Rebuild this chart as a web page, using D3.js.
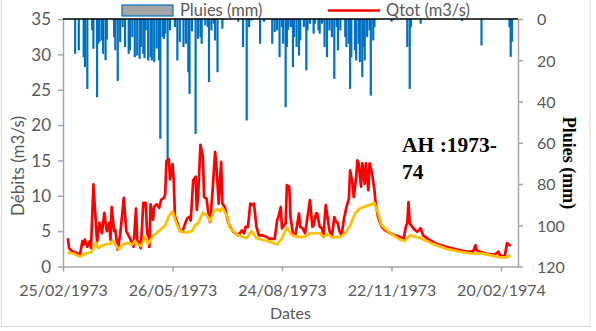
<!DOCTYPE html>
<html>
<head>
<meta charset="utf-8">
<script src="https://cdn.jsdelivr.net/npm/d3@7/dist/d3.min.js"></script>
<style>
  html, body { margin: 0; padding: 0; background: #fff; }
  svg { display: block; }
  .tick text { font-family: Lato, "Open Sans", sans-serif; font-size: 16px; fill: #595959; }
  .yq .tick text { font-size: 17px; }
</style>
</head>
<body>
<svg id="chart" width="596" height="331"></svg>
<script>
// Daily series, 1 March 1973 = day 0. [day, value]
const startDay = "01/03/1973";

// Total discharge Qtot (m3/s)
const qtot = [
  [0,4.0],[1,2.6],[3,2.2],[7,1.9],[10,1.7],[12,3.6],[13,3.1],[14,3.8],[16,2.8],[18,3.6],
  [19,2.6],[21,11.6],[24,3.5],[26,6.2],[28,4.7],[30,7.6],[32,5.0],[34,6.2],[35,3.8],[36,8.4],
  [38,5.0],[39,5.2],[41,2.4],[43,4.5],[46,9.7],[48,5.0],[51,4.0],[54,2.8],[56,8.2],[57,3.8],
  [60,2.6],[62,9.0],[64,9.0],[65,5.2],[67,2.8],[68,8.8],[70,6.6],[71,8.5],[73,8.8],[75,8.3],
  [76,9.0],[77,9.5],[79,9.7],[80,10.2],[81,14.9],[83,15.2],[84,12.3],[86,14.5],[87,12.3],[88,7.1],
  [90,6.2],[92,5.1],[94,4.9],[98,6.8],[100,7.0],[101,6.5],[103,12.2],[105,12.7],[106,8.0],[107,9.8],
  [109,17.2],[111,15.5],[112,9.8],[114,9.6],[116,6.8],[117,6.3],[119,10.8],[121,16.2],[122,14.6],[124,8.9],
  [126,14.8],[127,8.9],[129,8.4],[132,6.1],[134,5.4],[136,4.9],[140,4.4],[143,5.1],[145,4.7],[146,5.6],
  [148,5.6],[150,8.9],[152,8.7],[153,8.9],[155,5.6],[157,4.4],[160,4.4],[163,4.2],[166,3.9],[170,3.9],
  [172,6.5],[173,7.0],[175,8.4],[176,5.4],[179,6.1],[180,11.5],[182,11.3],[183,7.0],[185,4.7],[187,4.4],
  [190,7.5],[191,5.6],[193,5.4],[195,4.7],[197,7.0],[199,9.4],[201,5.6],[202,5.8],[204,7.5],[205,7.5],
  [207,5.6],[209,5.4],[210,4.2],[212,8.7],[214,6.3],[215,5.1],[217,4.2],[219,7.0],[220,6.5],[222,6.1],
  [223,5.1],[225,4.4],[227,6.8],[229,8.4],[231,9.6],[232,13.6],[234,11.7],[235,9.8],[237,12.7],[238,15.0],
  [239,14.6],[241,11.3],[242,14.6],[244,11.7],[245,14.6],[247,10.8],[248,14.6],[250,13.2],[252,10.8],[253,8.9],
  [255,7.0],[258,5.6],[261,5.1],[265,4.7],[269,4.4],[273,4.2],[276,3.9],[278,5.8],[279,6.1],[280,9.1],
  [281,6.1],[284,5.4],[287,4.9],[290,5.4],[292,4.4],[296,3.9],[303,3.2],[311,2.8],[320,2.4],[328,2.1],
  [333,2.1],[335,3.0],[336,2.3],[339,2.1],[344,1.8],[351,1.7],[354,2.1],[355,1.6],[359,1.4],[361,3.3],
  [363,3.0],[364,3.1]
];

// Base flow (m3/s)
const baseflow = [
  [0,2.0],[5,1.8],[10,1.4],[14,1.8],[19,2.0],[21,2.6],[23,3.4],[25,2.6],[28,2.9],[32,3.2],
  [35,3.2],[37,3.7],[39,3.1],[42,2.4],[45,3.1],[49,3.3],[53,3.1],[55,3.6],[57,3.2],[60,2.9],
  [64,4.3],[66,3.2],[70,4.3],[76,5.2],[80,5.8],[83,7.1],[86,7.8],[89,6.2],[92,5.0],[98,4.8],
  [102,5.0],[105,5.9],[107,6.1],[111,7.6],[114,7.3],[117,6.4],[120,7.8],[123,8.1],[125,7.8],[127,8.3],
  [131,7.1],[133,5.5],[139,4.5],[147,4.0],[151,5.0],[155,4.0],[164,3.6],[172,3.1],[176,4.0],[180,5.5],
  [184,4.5],[188,4.2],[195,4.2],[199,4.7],[207,4.7],[210,4.2],[214,4.6],[217,4.1],[224,4.2],[228,4.7],
  [232,5.8],[236,7.5],[240,8.2],[244,8.5],[250,8.8],[252,9.0],[255,7.5],[258,5.8],[265,4.7],[273,3.8],
  [277,3.6],[280,4.2],[281,4.4],[290,4.0],[300,3.2],[311,2.5],[322,2.1],[333,1.8],[339,1.9],[347,1.6],
  [355,1.3],[361,1.3],[364,1.6]
];

// Daily rainfall (mm)
const pluies = [
  [6,16.9],[9,15.2],[13,18.5],[14,23.3],[16,33.9],[20,5.5],[21,14.4],[24,37.9],[25,12],[26,11],
  [28,10.4],[29,16.9],[31,20],[32,10],[38,8.8],[39,15.2],[41,30],[43,11.2],[45,3.9],[47,13.6],
  [50,16.9],[51,15.2],[53,8.8],[55,18.5],[57,17.7],[59,19.3],[60,13.6],[62,16.9],[63,19],[64,5.5],
  [66,20.1],[68,18.5],[69,20.1],[71,20.9],[73,14.4],[75,20.1],[76,58.1],[78,8.8],[79,9.6],[80,7.1],
  [82,68.7],[84,5.5],[88,3.9],[90,20.1],[92,11.2],[95,13.6],[97,12],[99,25.8],[100,36.3],[102,6],
  [105,55.7],[107,9.6],[109,8.8],[110,12],[113,3.1],[115,3.9],[116,30.6],[118,5.5],[120,2.3],[121,10.4],
  [123,25.8],[127,4.7],[140,1.3],[144,13.6],[147,49.2],[149,3.9],[151,0.7],[158,12],[161,1.3],[162,0.7],
  [168,12],[170,6.3],[172,5.5],[174,18.5],[176,3.9],[177,12],[179,42.8],[180,13.6],[181,5.5],[183,3.9],
  [184,3.9],[185,23.3],[186,8.8],[188,13.6],[190,17.7],[191,10.4],[194,3.9],[196,24.9],[197,5.5],[199,2.3],
  [202,7.1],[203,2.3],[206,5.5],[207,7.1],[209,2.3],[211,13.6],[213,18.5],[215,5.5],[217,8.8],[219,29.0],
  [221,3.9],[222,15.2],[224,5.5],[228,8.8],[229,13.6],[231,12],[232,33.9],[233,18.5],[236,15.2],[237,20.1],
  [239,12],[240,20.9],[242,28.2],[243,13.6],[244,20.1],[246,8.8],[248,5.5],[249,37.1],[251,10.4],[252,3.9],
  [266,1.3],[268,0.3],[279,13.6],[281,33.9],[282,3.9],[290,2.3],[324,1.0],[340,12.8],[363,4],[364,18.3],
  [365,11]
];

// Axis ticks and range
const dateTicks = ["25/02/1973","26/05/1973","24/08/1973","22/11/1973","20/02/1974"];
const dateRange = ["25/02/1973","06/03/1974"];
const debitTicks = [0,5,10,15,20,25,30,35];
const pluieTicks = [0,20,40,60,80,100,120];

const parse = d3.utcParse("%d/%m/%Y");
const fmt = d3.utcFormat("%d/%m/%Y");
const t0 = parse(startDay);
const dayDate = d => d3.utcDay.offset(t0, d);

const svg = d3.select("#chart");
const L = 63, R = 518, T = 19, B = 266.5;

const x = d3.scaleUtc().domain(dateRange.map(parse)).range([L, R]);
const yQ = d3.scaleLinear().domain([0, 35]).range([B, T]);
const yP = d3.scaleLinear().domain([0, 120]).range([T, B]);

// outer chart frame
svg.append("rect")
  .attr("x", 1.5).attr("y", -2).attr("width", 588.5).attr("height", 328.5)
  .attr("fill", "none").attr("stroke", "#D9D9D9").attr("stroke-width", 1);

// rainfall bars hanging from the top
const barW = 2.2;
svg.append("g").selectAll("rect").data(pluies).join("rect")
  .attr("x", d => x(dayDate(d[0])) - barW / 2)
  .attr("y", yP(0))
  .attr("width", barW)
  .attr("height", d => yP(d[1]) - yP(0))
  .attr("fill", "#0070C0");

// discharge lines
const line = d3.line().x(d => x(dayDate(d[0]))).y(d => yQ(d[1]));
svg.append("path").datum(qtot).attr("d", line)
  .attr("fill", "none").attr("stroke", "#FF0000").attr("stroke-width", 2.7)
  .attr("stroke-linejoin", "round");
svg.append("path").datum(baseflow).attr("d", line)
  .attr("fill", "none").attr("stroke", "#FFC000").attr("stroke-width", 2.7)
  .attr("stroke-linejoin", "round");

// axes
const axisGrey = "#A6A6A6";
function styleAxis(g) {
  g.select(".domain").attr("stroke", axisGrey).attr("stroke-width", 1.5);
  g.selectAll(".tick line").attr("stroke", axisGrey).attr("stroke-width", 1.5);
}

svg.append("g").attr("class", "yq").attr("transform", `translate(${L},0)`)
  .call(d3.axisLeft(yQ).tickValues(debitTicks).tickSize(5).tickSizeOuter(0).tickPadding(7))
  .call(styleAxis)
  .call(g => g.selectAll(".tick text").attr("dy", "0.34em"));

svg.append("g").attr("transform", `translate(${R},0)`)
  .call(d3.axisRight(yP).tickValues(pluieTicks).tickSize(5).tickSizeOuter(0).tickPadding(14))
  .call(styleAxis)
  .call(g => g.selectAll(".tick text").attr("dy", "0.36em"));

svg.append("g").attr("transform", `translate(0,${B})`)
  .call(d3.axisBottom(x).tickValues(dateTicks.map(parse)).tickFormat(fmt)
    .tickSize(5).tickSizeOuter(0).tickPadding(13))
  .call(styleAxis);

// zero line of the inverted rainfall axis along the top
svg.append("line")
  .attr("x1", L).attr("x2", R).attr("y1", yP(0)).attr("y2", yP(0))
  .attr("stroke", "#000").attr("stroke-width", 1.5);

// axis titles
const sans = "Lato, 'Open Sans', sans-serif";
svg.append("text")
  .attr("transform", `translate(24,166) rotate(-90)`)
  .attr("text-anchor", "middle")
  .attr("font-family", sans).attr("font-size", 17).attr("fill", "#595959")
  .text("Débits (m3/s)");

svg.append("text")
  .attr("x", (L + R) / 2).attr("y", 319)
  .attr("text-anchor", "middle")
  .attr("font-family", sans).attr("font-size", 16).attr("fill", "#595959")
  .text("Dates");

svg.append("text")
  .attr("transform", `translate(563,163) rotate(90)`)
  .attr("text-anchor", "middle")
  .attr("font-family", "'Liberation Serif', 'Times New Roman', serif")
  .attr("font-weight", "bold").attr("font-size", 18).attr("fill", "#000")
  .text("Pluies (mm)");

// period label
const lab = svg.append("text")
  .attr("font-family", "'Liberation Serif', 'Times New Roman', serif")
  .attr("font-weight", "bold").attr("font-size", 21.5).attr("fill", "#000");
lab.append("tspan").attr("x", 402).attr("y", 152).text("AH :1973-");
lab.append("tspan").attr("x", 402).attr("y", 179).text("74");

// legend
const leg = svg.append("g");
leg.append("rect").attr("x", 122).attr("y", 5).attr("width", 51).attr("height", 11)
  .attr("fill", "#A5A5A5").attr("stroke", "#0070C0").attr("stroke-width", 1.2);
leg.append("text").attr("x", 180).attr("y", 16)
  .attr("font-family", sans).attr("font-size", 16.5).attr("fill", "#595959")
  .text("Pluies (mm)");
leg.append("line").attr("x1", 328).attr("x2", 380).attr("y1", 10.5).attr("y2", 10.5)
  .attr("stroke", "#FF0000").attr("stroke-width", 2.5);
leg.append("text").attr("x", 386).attr("y", 16)
  .attr("font-family", sans).attr("font-size", 16.5).attr("fill", "#595959")
  .text("Qtot (m3/s)");
</script>
</body>
</html>
